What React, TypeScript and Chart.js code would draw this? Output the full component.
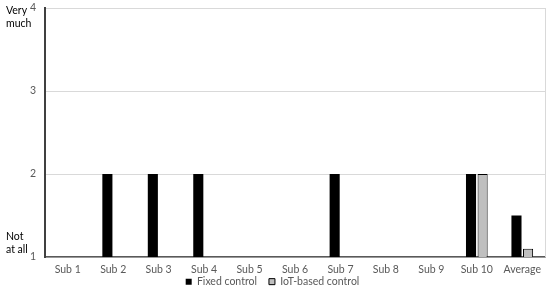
import React, { useEffect, useRef } from "react";
import { Chart, registerables } from "chart.js";

Chart.register(...registerables);

const categories = ["Sub 1", "Sub 2", "Sub 3", "Sub 4", "Sub 5", "Sub 6", "Sub 7", "Sub 8", "Sub 9", "Sub 10", "Average"];
const fixedControl = [1, 2, 2, 2, 1, 1, 2, 1, 1, 2, 1.5];
const iotControl = [1, 1, 1, 1, 1, 1, 1, 1, 1, 2, 1.1];
const seriesNames = ["Fixed control", "IoT-based control"];
const yTicks = [1, 2, 3, 4];
const topLabel = ["Very", "much"];
const bottomLabel = ["Not", "at all"];

const FONT = "Lato, 'Liberation Sans', sans-serif";
const TEXT = "#595959";
const LEGEND_PAD = 12;

const layoutTweaks = {
  id: "layoutTweaks",
  afterInit(chart: any) {
    const lg = chart.legend;
    if (lg && !lg._patched) {
      const orig = lg.fit.bind(lg);
      lg.fit = () => {
        orig();
        lg.height = 16;
      };
      lg._patched = true;
    }
  },
  beforeDraw(chart: any) {
    const lg = chart.legend;
    const x = chart.scales.x;
    if (lg && x) {
      const center = x.top + 26;
      lg.top = center - LEGEND_PAD - 6.6;
      lg.bottom = chart.height;
      lg.height = lg.bottom - lg.top;
    }
  },
  afterDraw(chart: any) {
    const { ctx, chartArea } = chart;
    const y = chart.scales.y;
    ctx.save();
    ctx.strokeStyle = "#d9d9d9";
    ctx.lineWidth = 1;
    ctx.beginPath();
    ctx.moveTo(Math.round(chartArea.right) + 0.5, chartArea.top);
    ctx.lineTo(Math.round(chartArea.right) + 0.5, chartArea.bottom);
    ctx.stroke();
    ctx.fillStyle = "#000";
    ctx.font = `10.5px ${FONT}`;
    ctx.textAlign = "left";
    ctx.textBaseline = "middle";
    const yTop = y.getPixelForValue(yTicks[yTicks.length - 1]);
    ctx.fillText(topLabel[0], 6, yTop + 3);
    ctx.fillText(topLabel[1], 6, yTop + 16);
    const yBot = y.getPixelForValue(yTicks[0]);
    ctx.fillText(bottomLabel[0], 6, yBot - 20);
    ctx.fillText(bottomLabel[1], 6, yBot - 7);
    ctx.restore();
  },
};

export default function App() {
  const ref = useRef<HTMLCanvasElement>(null);
  useEffect(() => {
    document.body.style.margin = "0";
    const chart = new Chart(ref.current!, {
      type: "bar",
      data: {
        labels: categories,
        datasets: [
          {
            label: seriesNames[0],
            data: fixedControl,
            backgroundColor: "#000000",
            borderColor: "#000000",
            borderWidth: 0,
          },
          {
            label: seriesNames[1],
            data: iotControl,
            backgroundColor: "#bfbfbf",
            borderColor: "#000000",
            borderWidth: 1,
          },
        ],
      },
      options: {
        animation: false,
        responsive: false,
        maintainAspectRatio: false,
        categoryPercentage: 0.51,
        barPercentage: 0.87,
        layout: { padding: { top: 8, right: 5, left: 0, bottom: 0 } },
        plugins: {
          tooltip: { enabled: false },
          legend: {
            position: "bottom",
            labels: {
              boxWidth: 6,
              boxHeight: 6,
              padding: LEGEND_PAD,
              color: TEXT,
              font: { family: FONT, size: 10.5 },
            },
          },
        },
        scales: {
          x: {
            grid: { display: false, drawTicks: false },
            border: { color: "#595959", width: 1.5 },
            afterFit: (s: any) => { s.height = 20; },
            ticks: { color: TEXT, font: { family: FONT, size: 10.5 }, padding: 6, maxRotation: 0 },
          },
          y: {
            min: yTicks[0],
            max: yTicks[yTicks.length - 1],
            afterFit: (s: any) => { s.width = 45; },
            afterBuildTicks: (s: any) => { s.ticks = yTicks.map((v) => ({ value: v })); },
            grid: { color: "#d9d9d9", drawTicks: true, tickLength: 9, tickColor: "rgba(0,0,0,0)" },
            border: { color: "#404040", width: 2 },
            ticks: { color: TEXT, font: { family: FONT, size: 10.5 }, padding: 0 },
          },
        },
      },
      plugins: [layoutTweaks],
    });
    return () => chart.destroy();
  }, []);
  return (
    <div style={{ width: 550, height: 293 }}>
      <canvas ref={ref} width={550} height={293} />
    </div>
  );
}
